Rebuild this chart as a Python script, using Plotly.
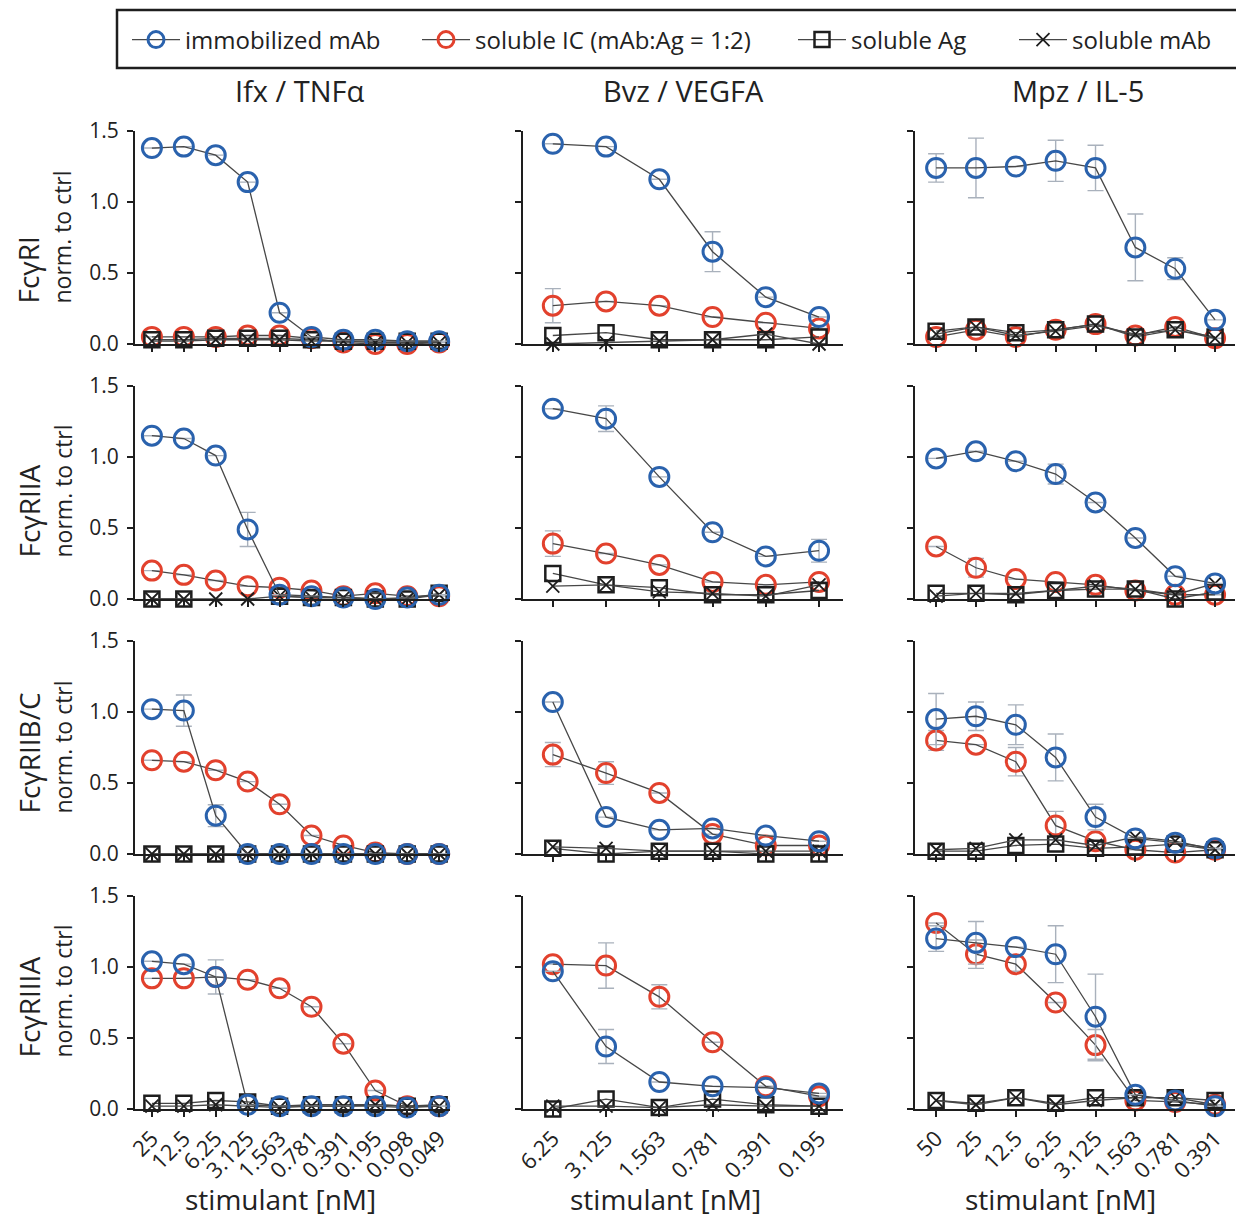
import plotly.graph_objects as go

# ---------------- data ----------------
conc_ifx = ["25", "12.5", "6.25", "3.125", "1.563", "0.781", "0.391", "0.195", "0.098", "0.049"]
conc_bvz = ["6.25", "3.125", "1.563", "0.781", "0.391", "0.195"]
conc_mpz = ["50", "25", "12.5", "6.25", "3.125", "1.563", "0.781", "0.391"]

receptors = ["FcγRI", "FcγRIIA", "FcγRIIB/C", "FcγRIIIA"]
pairs = ["Ifx / TNFα", "Bvz / VEGFA", "Mpz / IL-5"]
series_names = ["immobilized mAb", "soluble IC (mAb:Ag = 1:2)", "soluble Ag", "soluble mAb"]

# Ifx / TNFα
ifx_RI_imm = [1.38, 1.39, 1.33, 1.14, 0.22, 0.05, 0.03, 0.03, 0.02, 0.02]
ifx_RI_imm_err = [None] * 10
ifx_RI_ic = [0.05, 0.05, 0.05, 0.06, 0.06, 0.04, 0.01, 0.00, 0.00, 0.01]
ifx_RI_ic_err = [None] * 10
ifx_RI_ag = [0.03, 0.03, 0.04, 0.04, 0.04, 0.03, 0.02, 0.02, 0.02, 0.02]
ifx_RI_mab = [0.02, 0.02, 0.03, 0.03, 0.03, 0.02, 0.02, 0.01, 0.01, 0.01]

ifx_RIIA_imm = [1.15, 1.13, 1.01, 0.49, 0.03, 0.02, 0.01, 0.00, 0.01, 0.03]
ifx_RIIA_imm_err = [None, None, None, 0.12, None, None, None, None, None, None]
ifx_RIIA_ic = [0.20, 0.17, 0.13, 0.09, 0.08, 0.06, 0.02, 0.04, 0.02, 0.02]
ifx_RIIA_ic_err = [None] * 10
ifx_RIIA_ag = [0.00, 0.00, None, None, 0.02, 0.01, 0.01, 0.00, 0.00, 0.04]
ifx_RIIA_mab = [0.00, 0.00, 0.00, 0.00, 0.02, 0.01, 0.01, 0.00, 0.00, 0.03]

ifx_RIIB_imm = [1.02, 1.01, 0.27, 0.00, 0.00, 0.00, 0.00, 0.00, 0.00, 0.00]
ifx_RIIB_imm_err = [None, 0.11, 0.077, None, None, None, None, None, None, None]
ifx_RIIB_ic = [0.66, 0.65, 0.59, 0.51, 0.35, 0.13, 0.06, 0.01, 0.00, 0.00]
ifx_RIIB_ic_err = [None] * 10
ifx_RIIB_ag = [0.00, 0.00, 0.00, 0.00, 0.00, 0.00, 0.00, 0.00, 0.00, 0.00]
ifx_RIIB_mab = [0.00, 0.00, 0.00, 0.00, 0.00, 0.00, 0.00, 0.00, 0.00, 0.00]

ifx_RIIIA_imm = [1.04, 1.02, 0.93, 0.03, 0.02, 0.02, 0.02, 0.02, 0.01, 0.02]
ifx_RIIIA_imm_err = [None, None, 0.12, None, None, None, None, None, None, None]
ifx_RIIIA_ic = [0.92, 0.92, 0.93, 0.91, 0.85, 0.72, 0.46, 0.13, 0.02, 0.02]
ifx_RIIIA_ic_err = [None] * 10
ifx_RIIIA_ag = [0.04, 0.04, 0.06, 0.05, 0.02, 0.03, 0.03, 0.03, 0.02, 0.03]
ifx_RIIIA_mab = [0.02, 0.02, 0.03, 0.02, 0.01, 0.02, 0.02, 0.03, 0.02, 0.02]

# Bvz / VEGFA
bvz_RI_imm = [1.41, 1.39, 1.16, 0.65, 0.33, 0.19]
bvz_RI_imm_err = [None, None, None, 0.14, None, None]
bvz_RI_ic = [0.27, 0.30, 0.27, 0.19, 0.15, 0.11]
bvz_RI_ic_err = [0.12, None, None, None, None, None]
bvz_RI_ag = [0.06, 0.08, 0.03, 0.03, 0.03, 0.05]
bvz_RI_mab = [0.00, 0.01, 0.02, 0.03, 0.07, 0.00]

bvz_RIIA_imm = [1.34, 1.27, 0.86, 0.47, 0.30, 0.34]
bvz_RIIA_imm_err = [None, 0.09, None, None, None, 0.08]
bvz_RIIA_ic = [0.39, 0.32, 0.24, 0.12, 0.10, 0.12]
bvz_RIIA_ic_err = [0.09, None, None, None, None, None]
bvz_RIIA_ag = [0.18, 0.10, 0.08, 0.03, 0.03, 0.06]
bvz_RIIA_mab = [0.09, 0.10, 0.05, 0.04, 0.02, 0.10]

bvz_RIIB_imm = [1.07, 0.26, 0.17, 0.18, 0.13, 0.09]
bvz_RIIB_imm_err = [None] * 6
bvz_RIIB_ic = [0.70, 0.57, 0.43, 0.14, 0.06, 0.06]
bvz_RIIB_ic_err = [0.085, 0.08, None, None, None, None]
bvz_RIIB_ag = [0.04, 0.00, 0.02, 0.02, 0.00, 0.00]
bvz_RIIB_mab = [0.05, 0.04, 0.02, 0.02, 0.02, 0.02]

bvz_RIIIA_imm = [0.97, 0.44, 0.19, 0.16, 0.15, 0.11]
bvz_RIIIA_imm_err = [None, 0.12, None, None, None, None]
bvz_RIIIA_ic = [1.02, 1.01, 0.79, 0.47, 0.16, 0.09]
bvz_RIIIA_ic_err = [None, 0.16, 0.085, None, None, None]
bvz_RIIIA_ag = [0.00, 0.07, 0.01, 0.07, 0.03, 0.02]
bvz_RIIIA_mab = [0.02, 0.02, 0.01, 0.03, 0.02, 0.02]

# Mpz / IL-5
mpz_RI_imm = [1.24, 1.24, 1.25, 1.29, 1.24, 0.68, 0.53, 0.17]
mpz_RI_imm_err = [0.10, 0.21, None, 0.145, 0.16, 0.235, 0.077, None]
mpz_RI_ic = [0.05, 0.10, 0.05, 0.10, 0.14, 0.06, 0.12, 0.04]
mpz_RI_ic_err = [None] * 8
mpz_RI_ag = [0.09, 0.12, 0.08, 0.10, 0.14, 0.05, 0.10, 0.05]
mpz_RI_mab = [0.07, 0.12, 0.06, 0.09, 0.13, 0.07, 0.10, 0.04]

mpz_RIIA_imm = [0.99, 1.04, 0.97, 0.88, 0.68, 0.43, 0.16, 0.11]
mpz_RIIA_imm_err = [None, None, None, 0.07, None, None, None, None]
mpz_RIIA_ic = [0.37, 0.22, 0.14, 0.12, 0.10, 0.06, 0.03, 0.03]
mpz_RIIA_ic_err = [None, 0.066, None, None, None, None, None, None]
mpz_RIIA_ag = [0.04, 0.04, 0.03, 0.06, 0.07, 0.07, 0.00, 0.05]
mpz_RIIA_mab = [0.02, 0.04, 0.04, 0.06, 0.09, 0.07, 0.03, 0.11]

mpz_RIIB_imm = [0.95, 0.97, 0.91, 0.68, 0.26, 0.11, 0.08, 0.04]
mpz_RIIB_imm_err = [0.18, 0.10, 0.14, 0.165, 0.09, None, None, None]
mpz_RIIB_ic = [0.80, 0.77, 0.65, 0.20, 0.09, 0.03, 0.01, 0.03]
mpz_RIIB_ic_err = [0.07, None, 0.10, 0.10, None, None, None, None]
mpz_RIIB_ag = [0.02, 0.02, 0.06, 0.07, 0.04, 0.05, 0.07, 0.03]
mpz_RIIB_mab = [0.03, 0.04, 0.10, 0.10, 0.06, 0.12, 0.09, 0.03]

mpz_RIIIA_imm = [1.20, 1.17, 1.14, 1.09, 0.65, 0.10, 0.06, 0.02]
mpz_RIIIA_imm_err = [0.09, 0.15, None, 0.20, 0.30, None, None, None]
mpz_RIIIA_ic = [1.31, 1.09, 1.02, 0.75, 0.45, 0.06, 0.05, 0.03]
mpz_RIIIA_ic_err = [None, 0.10, 0.05, None, 0.11, None, None, None]
mpz_RIIIA_ag = [0.06, 0.04, 0.08, 0.04, 0.08, 0.08, 0.08, 0.06]
mpz_RIIIA_mab = [0.06, 0.03, 0.08, 0.03, 0.06, 0.08, 0.08, 0.03]

y_ticks = [0.0, 0.5, 1.0, 1.5]

panels = [
    [(ifx_RI_imm, ifx_RI_imm_err, ifx_RI_ic, ifx_RI_ic_err, ifx_RI_ag, ifx_RI_mab),
     (bvz_RI_imm, bvz_RI_imm_err, bvz_RI_ic, bvz_RI_ic_err, bvz_RI_ag, bvz_RI_mab),
     (mpz_RI_imm, mpz_RI_imm_err, mpz_RI_ic, mpz_RI_ic_err, mpz_RI_ag, mpz_RI_mab)],
    [(ifx_RIIA_imm, ifx_RIIA_imm_err, ifx_RIIA_ic, ifx_RIIA_ic_err, ifx_RIIA_ag, ifx_RIIA_mab),
     (bvz_RIIA_imm, bvz_RIIA_imm_err, bvz_RIIA_ic, bvz_RIIA_ic_err, bvz_RIIA_ag, bvz_RIIA_mab),
     (mpz_RIIA_imm, mpz_RIIA_imm_err, mpz_RIIA_ic, mpz_RIIA_ic_err, mpz_RIIA_ag, mpz_RIIA_mab)],
    [(ifx_RIIB_imm, ifx_RIIB_imm_err, ifx_RIIB_ic, ifx_RIIB_ic_err, ifx_RIIB_ag, ifx_RIIB_mab),
     (bvz_RIIB_imm, bvz_RIIB_imm_err, bvz_RIIB_ic, bvz_RIIB_ic_err, bvz_RIIB_ag, bvz_RIIB_mab),
     (mpz_RIIB_imm, mpz_RIIB_imm_err, mpz_RIIB_ic, mpz_RIIB_ic_err, mpz_RIIB_ag, mpz_RIIB_mab)],
    [(ifx_RIIIA_imm, ifx_RIIIA_imm_err, ifx_RIIIA_ic, ifx_RIIIA_ic_err, ifx_RIIIA_ag, ifx_RIIIA_mab),
     (bvz_RIIIA_imm, bvz_RIIIA_imm_err, bvz_RIIIA_ic, bvz_RIIIA_ic_err, bvz_RIIIA_ag, bvz_RIIIA_mab),
     (mpz_RIIIA_imm, mpz_RIIIA_imm_err, mpz_RIIIA_ic, mpz_RIIIA_ic_err, mpz_RIIIA_ag, mpz_RIIIA_mab)],
]
concs = [conc_ifx, conc_bvz, conc_mpz]

# ---------------- layout geometry (window pixels) ----------------
OFF = 8                      # page body margin
W, H = 1244 - OFF, 1221 - OFF
FONT = "Open Sans"


def px(x):
    return (x - OFF) / W


def py(y):
    return 1 - (y - OFF) / H


col_px = [(135, 450), (523, 843), (915, 1235)]
row_px = [(131, 344), (386, 599), (641, 854), (896, 1109)]
col_ranges = [[-0.53, 9.34], [-0.56, 5.45], [-0.53, 7.5]]

BLUE = "#2a62ad"
RED = "#e2412d"
BLACK = "#1e1e1e"
LINE = "#474747"
ERR = "#a9b1bc"
TXT = "#222222"

fig = go.Figure()
layout_axes = {}


def err_dict(e):
    return dict(type="data", array=e, visible=True, color=ERR, thickness=1.4, width=8)


for r in range(4):
    for c in range(3):
        k = r * 3 + c + 1
        xa = "x" if k == 1 else f"x{k}"
        ya = "y" if k == 1 else f"y{k}"
        imm, imm_err, ic, ic_err, ag, mab = panels[r][c]
        cats = concs[c]
        first = (k == 1)

        fig.add_trace(go.Scatter(
            x=cats, y=ic, xaxis=xa, yaxis=ya, mode="lines+markers",
            name=series_names[1], legend="legend2", showlegend=first,
            line=dict(color=LINE, width=1.3),
            marker=dict(symbol="circle-open", size=19, color=RED, line=dict(width=3)),
            error_y=err_dict(ic_err), cliponaxis=False))
        fig.add_trace(go.Scatter(
            x=cats, y=ag, xaxis=xa, yaxis=ya, mode="lines+markers",
            name=series_names[2], legend="legend3", showlegend=first,
            line=dict(color=LINE, width=1.3),
            marker=dict(symbol="square-open", size=15, color=BLACK, line=dict(width=2.5)),
            cliponaxis=False))
        fig.add_trace(go.Scatter(
            x=cats, y=mab, xaxis=xa, yaxis=ya, mode="lines+markers",
            name=series_names[3], legend="legend4", showlegend=first,
            line=dict(color=LINE, width=1.3),
            marker=dict(symbol="x-thin-open", size=13, color=BLACK, line=dict(width=1.8)),
            cliponaxis=False))
        fig.add_trace(go.Scatter(
            x=cats, y=imm, xaxis=xa, yaxis=ya, mode="lines+markers",
            name=series_names[0], legend="legend", showlegend=first,
            line=dict(color=LINE, width=1.3),
            marker=dict(symbol="circle-open", size=19, color=BLUE, line=dict(width=3)),
            error_y=err_dict(imm_err), cliponaxis=False))

        x0, x1 = col_px[c]
        yt, yb = row_px[r]
        xkey = "xaxis" if k == 1 else f"xaxis{k}"
        ykey = "yaxis" if k == 1 else f"yaxis{k}"
        layout_axes[xkey] = dict(
            domain=[px(x0), px(x1)], anchor=ya, type="category",
            categoryorder="array", categoryarray=cats,
            range=col_ranges[c], showgrid=False, zeroline=False,
            showline=True, linecolor=BLACK, linewidth=2,
            ticks="outside", ticklen=6, tickwidth=1.5, tickcolor=BLACK,
            showticklabels=(r == 3), tickangle=-45, automargin=False,
            tickfont=dict(size=22, color=TXT, family=FONT),
            fixedrange=True)
        layout_axes[ykey] = dict(
            domain=[py(yb), py(yt)], anchor=xa, range=[0, 1.5],
            tickvals=y_ticks, tickformat=".1f", showgrid=False, zeroline=False,
            showline=True, linecolor=BLACK, linewidth=2,
            ticks="outside", ticklen=6, tickwidth=1.5, tickcolor=BLACK,
            showticklabels=(c == 0), automargin=False, ticklabelstandoff=4,
            tickfont=dict(size=21, color=TXT, family=FONT),
            fixedrange=True)

annotations = []
col_title_x = [300, 683, 1078]
for c, t in enumerate(pairs):
    annotations.append(dict(text=t, x=px(col_title_x[c]), y=py(90), xref="paper", yref="paper",
                            showarrow=False, xanchor="center", yanchor="middle",
                            font=dict(size=29, color=TXT, family=FONT)))
xtitle_x = [280, 665, 1060]
for c in range(3):
    annotations.append(dict(text="stimulant [nM]", x=px(xtitle_x[c]), y=py(1199), xref="paper",
                            yref="paper", showarrow=False, xanchor="center", yanchor="middle",
                            font=dict(size=28, color=TXT, family=FONT)))
row_bottom = [306, 560, 816, 1060]
for r, rec in enumerate(receptors):
    annotations.append(dict(text=rec, x=px(28), y=py(row_bottom[r]), xref="paper", yref="paper",
                            showarrow=False, textangle=-90, xanchor="center", yanchor="bottom",
                            font=dict(size=28, color=TXT, family=FONT)))
    annotations.append(dict(text="norm. to ctrl", x=px(62), y=py(row_bottom[r]), xref="paper",
                            yref="paper", showarrow=False, textangle=-90, xanchor="center",
                            yanchor="bottom", font=dict(size=23, color=TXT, family=FONT)))

leg_common = dict(orientation="h", yanchor="middle", y=py(40), xanchor="left",
                  bgcolor="rgba(0,0,0,0)", borderwidth=0, itemwidth=48,
                  font=dict(size=24, color=TXT, family=FONT))
legend_x = [127, 417, 793, 1014]

fig.update_layout(
    width=W, height=H,
    margin=dict(l=0, r=0, t=0, b=0, autoexpand=False),
    paper_bgcolor="white", plot_bgcolor="white",
    font=dict(family=FONT, color=TXT),
    annotations=annotations,
    shapes=[dict(type="rect", xref="paper", yref="paper",
                 x0=px(117), x1=px(1238), y0=py(68), y1=py(10),
                 line=dict(color=BLACK, width=2.5))],
    legend=dict(x=px(legend_x[0]), **leg_common),
    legend2=dict(x=px(legend_x[1]), **leg_common),
    legend3=dict(x=px(legend_x[2]), **leg_common),
    legend4=dict(x=px(legend_x[3]), **leg_common),
    **layout_axes,
)

fig.write_html("out.html")
